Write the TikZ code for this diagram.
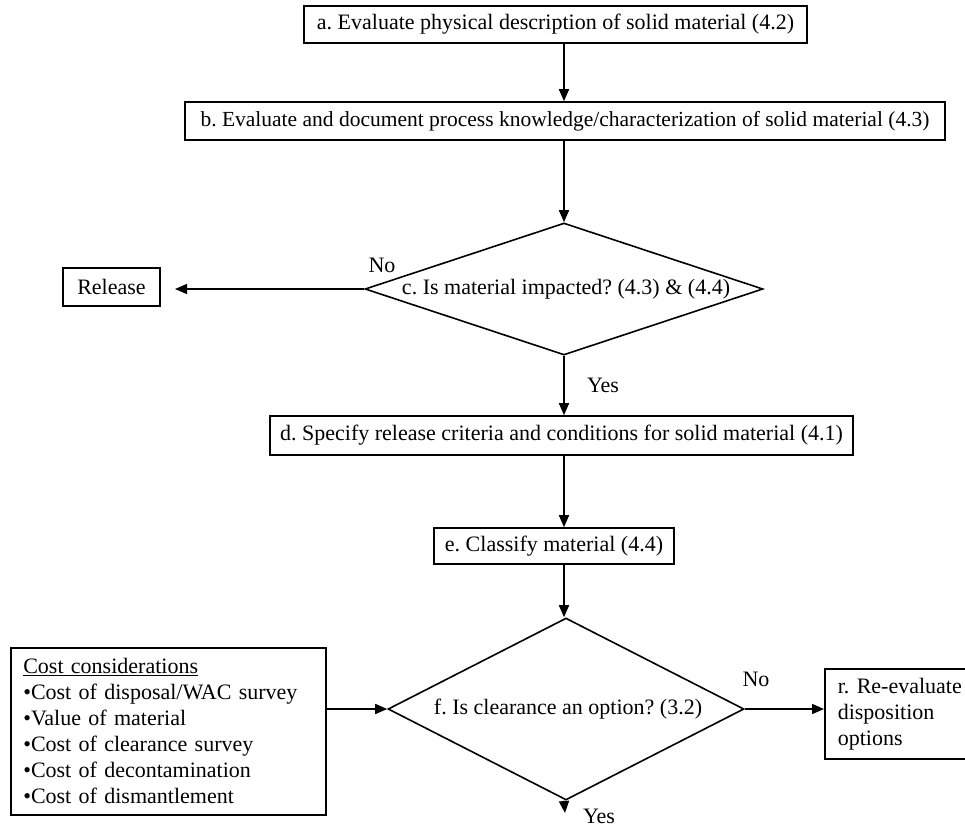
\documentclass[tikz,border=0pt]{standalone}
\usepackage{fontspec}
\setmainfont{Liberation Serif}
\usetikzlibrary{shapes.geometric,arrows.meta}
\begin{document}
\frenchspacing
\begin{tikzpicture}[x=1pt,y=-1pt,
  font=\fontsize{22}{26}\selectfont,
  box/.style={draw,line width=1.6pt,inner sep=0pt},
  dia/.style={draw,line width=1.6pt,diamond,inner sep=0pt},
  arr/.style={line width=1.6pt,-{Triangle[length=12pt,width=10pt]}},
  lbl/.style={inner sep=0pt}]
\useasboundingbox (0,0) rectangle (965,830);
\node[box,minimum width=503pt,minimum height=37pt] (a) at (555.5,24.5) {a. Evaluate physical description of solid material (4.2)};
\node[box,minimum width=760pt,minimum height=38pt,font=\fontsize{21.5}{26}\selectfont] (b) at (565,121) {b. Evaluate and document process knowledge/characterization of solid material (4.3)};
\node[dia,minimum width=398pt,minimum height=132pt] (c) at (564,289) {};
\node[lbl] (ct) at (566,289) {c. Is material impacted? (4.3) \& (4.4)};
\node[box,minimum width=97pt,minimum height=38pt] (rel) at (111.5,287) {Release};
\node[box,minimum width=583pt,minimum height=39pt] (d) at (561.5,435.5) {d. Specify release criteria and conditions for solid material (4.1)};
\node[box,minimum width=240pt,minimum height=36pt] (e) at (554,546) {e. Classify material (4.4)};
\node[dia,minimum width=356pt,minimum height=182pt] (f) at (566,709) {};
\node[lbl] (ft) at (568,709) {f. Is clearance an option? (3.2)};
\node[box,anchor=north west,minimum width=315pt,minimum height=167pt,align=left,text width=290pt,inner xsep=12pt] (cost) at (10,647) {\underline{Cost considerations}\\•Cost of disposal/WAC survey\\•Value of material\\•Cost of clearance survey\\•Cost of decontamination\\•Cost of dismantlement};
\node[box,anchor=north west,minimum width=160pt,minimum height=90pt,align=left,text width=134pt,inner xsep=13pt] (r) at (824,668) {r. Re-evaluate\\disposition\\options};
\coordinate (relend) at (175,289);
\coordinate (fend) at (565,813);
\draw[arr] (564,43) -- (b.north -| 564,0);
\draw[arr] (b.south -| 564,0) -- (c.north);
\draw[arr] (c.west) -- (relend);
\draw[arr] (c.south) -- (d.north -| c.south);
\draw[arr] (d.south -| 564,0) -- (e.north -| 564,0);
\draw[arr] (e.south -| 564,0) -- (f.north -| 564,0);
\draw[arr] (cost.east |- f.west) -- (f.west);
\draw[arr] (f.east) -- (r.west |- f.east);
\draw[arr] (f.south -| 564,0) -- (fend);
\node[lbl] (no1) at (382,265) {No};
\node[lbl] (yes1) at (603,385) {Yes};
\node[lbl] (no2) at (756,679) {No};
\node[lbl] (yes2) at (599,816) {Yes};
\end{tikzpicture}
\end{document}
